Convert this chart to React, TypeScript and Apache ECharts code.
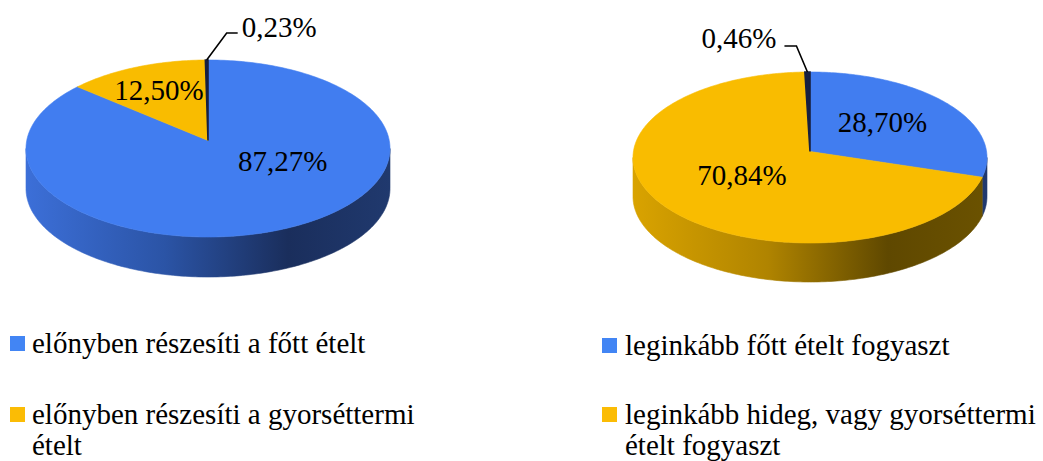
import React, { useEffect, useRef } from "react";
import * as echarts from "echarts";

// ---- data ----
const leftCategories = [
  "előnyben részesíti a főtt ételt",
  "előnyben részesíti a gyorséttermi ételt",
  "egyéb",
];
const leftValues = [87.27, 12.5, 0.23];

const rightCategories = [
  "leginkább főtt ételt fogyaszt",
  "leginkább hideg, vagy gyorséttermi ételt fogyaszt",
  "egyéb",
];
const rightValues = [28.7, 70.84, 0.46];

const legendCount = 2; // only the first two categories are listed in the legends

// ---- styles ----
const FONT = "'Liberation Serif', 'Times New Roman', serif";
const FONT_SIZE = 29;
const LINE_HEIGHT = 31;
const topColors = ["#417DF0", "#F9BC00", "#172040"];
const wallStops = [
  ["#3C6FD8", "#2B54A6", "#1A2E5C", "#20396E"],
  ["#D9A300", "#B08400", "#5F4800", "#6B5200"],
  ["#10182E", "#10182E", "#10182E", "#10182E"],
];
const legendColors = ["#4285F4", "#FBBC05"];

type Layout = {
  cx: number;
  cy: number;
  rx: number;
  ry: number;
  depth: number;
  vOff: number;
  labelOffsets: ([number, number] | null)[];
  leader: { dx: number; dy: number; hx: number; gap: number; ly: number };
};

const leftLayout: Layout = {
  cx: 208,
  cy: 148.5,
  rx: 182,
  ry: 88.5,
  depth: 40,
  vOff: 8,
  labelOffsets: [[0.41, 0.14], [-0.27, -0.66], null],
  leader: { dx: 20, dy: -27, hx: 11, gap: 4, ly: -6 },
};

const rightLayout: Layout = {
  cx: 810,
  cy: 157.5,
  rx: 177,
  ry: 85.5,
  depth: 39,
  vOff: 6,
  labelOffsets: [[0.41, -0.415], [-0.384, 0.205], null],
  leader: { dx: -11, dy: -26, hx: -12, gap: 8, ly: -8 },
};

const fmt = (v: number) => v.toFixed(2).replace(".", ",") + "%";

function wrapText(text: string, maxWidth: number): string {
  const canvas = document.createElement("canvas");
  const ctx = canvas.getContext("2d");
  if (!ctx) return text;
  ctx.font = `${FONT_SIZE}px ${FONT}`;
  const words = text.split(" ");
  const lines: string[] = [];
  let cur = "";
  for (const w of words) {
    const test = cur ? cur + " " + w : w;
    if (cur && ctx.measureText(test).width > maxWidth) {
      lines.push(cur);
      cur = w;
    } else cur = test;
  }
  if (cur) lines.push(cur);
  return lines.join("\n");
}

function makeRenderItem(values: number[], L: Layout) {
  const total = values.reduce((a, b) => a + b, 0);
  const TAU = Math.PI * 2;
  const pt = (a: number, dy = 0) => [
    L.cx + L.rx * Math.sin(a),
    L.cy - L.ry * Math.cos(a) + dy,
  ];
  return (params: any) => {
    const i = params.dataIndex;
    let start = 0;
    for (let k = 0; k < i; k++) start += values[k];
    const a0 = (start / total) * TAU;
    const a1 = ((start + values[i]) / total) * TAU;
    const children: any[] = [];

    // outer wall (front half only)
    const w0 = Math.max(a0, Math.PI / 2);
    const w1 = Math.min(a1, (Math.PI * 3) / 2);
    if (w1 > w0) {
      const n = Math.max(2, Math.ceil((w1 - w0) / (Math.PI / 180)));
      const pts: number[][] = [];
      for (let j = 0; j <= n; j++) pts.push(pt(w0 + ((w1 - w0) * j) / n));
      for (let j = n; j >= 0; j--) pts.push(pt(w0 + ((w1 - w0) * j) / n, L.depth));
      const stops = wallStops[i];
      const grad = new echarts.graphic.LinearGradient(
        L.cx - L.rx,
        0,
        L.cx + L.rx,
        0,
        [
          { offset: 0, color: stops[0] },
          { offset: 0.38, color: stops[1] },
          { offset: 0.72, color: stops[2] },
          { offset: 1, color: stops[3] },
        ],
        true
      );
      children.push({
        type: "polygon",
        shape: { points: pts },
        style: { fill: grad, stroke: grad, lineWidth: 0.6 },
      });
    }

    // top face
    const n = Math.max(2, Math.ceil((a1 - a0) / (Math.PI / 180)));
    const top: number[][] = [[L.cx, L.cy - L.vOff]];
    for (let j = 0; j <= n; j++) top.push(pt(a0 + ((a1 - a0) * j) / n));
    children.push({
      type: "polygon",
      shape: { points: top },
      style: { fill: topColors[i], stroke: topColors[i], lineWidth: i === 2 ? 1.6 : 0.6 },
      z2: 1,
    });

    // label
    const off = L.labelOffsets[i];
    if (off) {
      children.push({
        type: "text",
        x: L.cx + off[0] * L.rx,
        y: L.cy + off[1] * L.ry,
        z2: 20,
        style: {
          text: fmt(values[i]),
          fontFamily: FONT,
          fontSize: FONT_SIZE,
          fill: "#000",
          align: "center",
          verticalAlign: "middle",
        },
      });
    } else {
      const am = (a0 + a1) / 2;
      const p0 = pt(am);
      const p1 = [p0[0] + L.leader.dx, p0[1] + L.leader.dy];
      const p2 = [p1[0] + L.leader.hx, p1[1]];
      const dir = L.leader.hx > 0 ? 1 : -1;
      children.push({
        type: "polyline",
        shape: { points: [p0, p1, p2] },
        style: { stroke: "#000", lineWidth: 1.6, fill: "none" },
        z2: 20,
      });
      children.push({
        type: "text",
        x: p2[0] + dir * L.leader.gap,
        y: p2[1] + L.leader.ly,
        z2: 20,
        style: {
          text: fmt(values[i]),
          fontFamily: FONT,
          fontSize: FONT_SIZE,
          fill: "#000",
          align: dir > 0 ? "left" : "right",
          verticalAlign: "middle",
        },
      });
    }
    return { type: "group", children };
  };
}

function legendElements(
  names: string[],
  x: number,
  textX: number,
  ys: number[],
  width: number
) {
  const els: any[] = [];
  for (let i = 0; i < legendCount; i++) {
    els.push({
      type: "rect",
      shape: { x, y: ys[i] - 7, width: 15, height: 15 },
      style: { fill: legendColors[i] },
    });
    els.push({
      type: "text",
      x: textX,
      y: ys[i] - LINE_HEIGHT / 2,
      style: {
        text: wrapText(names[i], width),
        fontFamily: FONT,
        fontSize: FONT_SIZE,
        lineHeight: LINE_HEIGHT,
        fill: "#000",
        align: "left",
        verticalAlign: "top",
      },
    });
  }
  return els;
}

export default function App() {
  const ref = useRef<HTMLDivElement>(null);
  useEffect(() => {
    if (!ref.current) return;
    const chart = echarts.init(ref.current, undefined, { renderer: "svg" });
    chart.setOption({
      animation: false,
      backgroundColor: "#fff",
      series: [
        {
          type: "custom",
          name: "left",
          coordinateSystem: "none",
          silent: true,
          data: leftValues,
          renderItem: makeRenderItem(leftValues, leftLayout),
        },
        {
          type: "custom",
          name: "right",
          coordinateSystem: "none",
          silent: true,
          data: rightValues,
          renderItem: makeRenderItem(rightValues, rightLayout),
        },
      ],
      graphic: [
        ...legendElements(leftCategories, 10, 32, [343, 414], 410),
        ...legendElements(rightCategories, 602, 625, [345, 414], 415),
      ],
    });
    return () => chart.dispose();
  }, []);
  return (
    <div
      ref={ref}
      style={{ position: "fixed", left: 0, top: 0, width: 1043, height: 461 }}
    />
  );
}
